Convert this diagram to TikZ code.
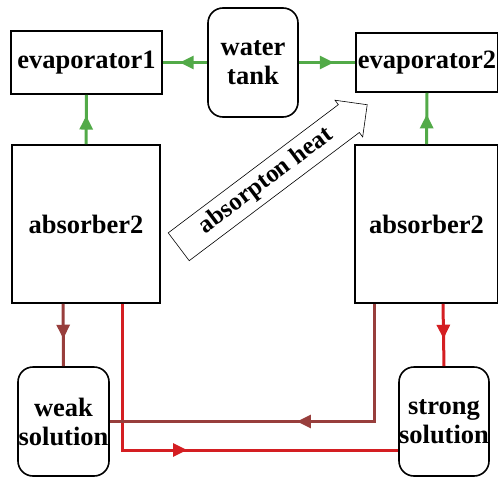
\documentclass[tikz,border=0pt]{standalone}
\usepackage{fontspec}
\setmainfont{Liberation Serif}
\usepackage{tikz}
\usetikzlibrary{shapes.geometric, shapes.arrows, arrows.meta, positioning, calc, decorations.markings}
\definecolor{flowgreen}{RGB}{82,170,72}
\definecolor{flowbrown}{RGB}{152,62,60}
\definecolor{flowred}{RGB}{212,30,34}
\tikzstyle{unit} = [rectangle, draw=black, line width=1.6pt, inner sep=0pt, font=\fontsize{26.5}{29}\selectfont\bfseries, align=center]
\tikzstyle{vessel} = [unit, rounded corners=15pt]
\tikzstyle{pipe} = [line width=3pt]
\tikzset{
	midarrow/.style={postaction={decorate, decoration={markings,
		mark=at position #1 with {\arrow{Triangle[length=14pt,width=13pt]}}}}}
}

\begin{document}
\begin{tikzpicture}[x=1pt, y=-1pt]
\useasboundingbox (0,0) rectangle (498,479);
%----------------------------------------------------------------------------
% Placement of units
\node (evapA) [unit, minimum width=151pt, minimum height=63pt] at (86.5,62.5) {evaporator1};
\node (tank) [vessel, minimum width=90pt, minimum height=109pt] at (253,62.5) {water\\tank};
\node (evapB) [unit, minimum width=142pt, minimum height=59pt] at (427,62.5) {evaporator2};

\node (absA) [unit, minimum width=148pt, minimum height=158pt] at (86,224) {absorber2};
\node (absB) [unit, minimum width=143pt, minimum height=158pt] at (426.5,224) {absorber2};

\node (weak) [vessel, minimum width=91pt, minimum height=109pt] at (63.5,421.5) {weak\\solution};
\node (strong) [vessel, minimum width=90pt, minimum height=109pt] at (444,421.5) {strong\\solution};

% heat transfer arrow
\node (heat) [single arrow, draw=black, line width=0.6pt, rotate=37, minimum width=46pt,
	single arrow head extend=5pt, single arrow head indent=0pt, inner xsep=2pt, inner ysep=4pt,
	minimum height=236pt, font=\fontsize{25}{28}\selectfont\bfseries] at (266,181) {absorpton heat};

%----------------------------------------------------------------------------
% Water lines
\draw [pipe, flowgreen, midarrow=0.62] (tank.west) -- (evapA.east);
\draw [pipe, flowgreen, midarrow=0.62] (tank.east) -- (evapB.west);
\draw [pipe, flowgreen, midarrow=0.58] (absA.north) -- (evapA.south);
\draw [pipe, flowgreen, midarrow=0.58] (absB.north) -- (evapB.south);

%----------------------------------------------------------------------------
% Solution lines
\draw [pipe, flowbrown, midarrow=0.56] ([xshift=-23pt]absA.south) -- (weak.north);
\draw [pipe, flowred, midarrow=0.56] ([xshift=16.5pt]absB.south) -- (strong.north);
\draw [pipe, flowred, midarrow=0.5] ([xshift=36pt]absA.south) |- ([yshift=-28.5pt]strong.west);
\draw [pipe, flowbrown, midarrow=0.51] ([xshift=-52.5pt]absB.south) |- (weak.east);

\end{tikzpicture}
\end{document}
